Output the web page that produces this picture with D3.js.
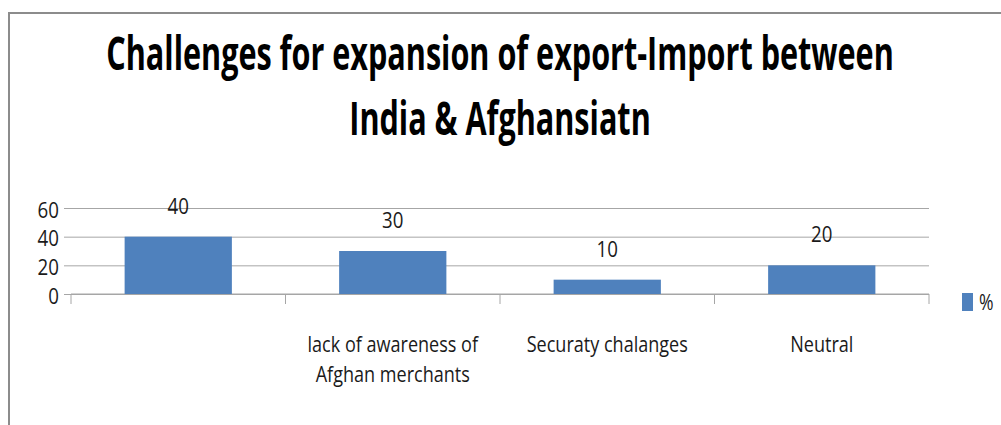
<!DOCTYPE html>
<html>
<head>
<meta charset="utf-8">
<script src="https://cdn.jsdelivr.net/npm/d3@7"></script>
<style>
  body { margin: 0; background: #fff; }
  text { font-family: "Open Sans", "Noto Sans", sans-serif; fill: #1a1a1a; }
</style>
</head>
<body>
<div id="chart"></div>
<script>
var titleLines = ["Challenges for expansion of export-Import between", "India & Afghansiatn"];
var categories = ["", "lack of awareness of\nAfghan merchants", "Securaty chalanges", "Neutral"];
var values = [40, 30, 10, 20];
var yTicks = [0, 20, 40, 60];
var seriesName = "%";

var W = 1001, H = 425,
    margin = { top: 208, left: 71, right: 72, bottom: 131 },
    width = W - margin.left - margin.right,
    height = H - margin.top - margin.bottom,
    barColor = "#4F81BD";

// condense text horizontally (the source font is a narrow one)
function squeeze(sel, k) {
    sel.each(function() {
        var w = this.getComputedTextLength();
        if (w > 0) d3.select(this).attr("textLength", w * k).attr("lengthAdjust", "spacingAndGlyphs");
    });
}

var svg = d3.select("#chart").append("svg").attr("width", W).attr("height", H);

// outer frame (runs off the right and bottom)
svg.append("path").attr("d", "M9," + (H + 5) + "V13H" + (W + 5))
    .attr("fill", "none").attr("stroke", "#8c8c8c").attr("stroke-width", 2);

// title: scaled horizontally so its box stays true
var titleK = 0.665;
svg.selectAll(".title").data(titleLines).enter().append("g")
    .attr("class", "title")
    .attr("transform", function(d, i) { return "translate(500," + (70 + i * 65) + ") scale(" + titleK + ",1)"; })
    .append("text")
    .attr("text-anchor", "middle")
    .style("font-size", "46px").style("font-weight", "bold").style("fill", "#000")
    .text(function(d) { return d; });

var g = svg.append("g").attr("transform", "translate(" + margin.left + "," + margin.top + ")");

var x = d3.scaleBand().domain(d3.range(categories.length)).range([0, width])
    .paddingInner(0.5).paddingOuter(0.25);
var y = d3.scaleLinear().domain([0, 60]).range([height, 0]);

// gridlines + y ticks
var yAxis = g.append("g").call(d3.axisLeft(y).tickValues(yTicks).tickSize(-width).tickPadding(12));
yAxis.select(".domain").remove();
yAxis.selectAll(".tick line").attr("stroke", "#a6a6a6").attr("x1", -7);
yAxis.selectAll(".tick text").style("font-size", "22px").attr("dy", "0.42em").call(squeeze, 0.85);

// category axis
var step = x.step();
var xAxis = g.append("g").attr("transform", "translate(0," + height + ")");
xAxis.append("line").attr("x1", 0).attr("x2", width).attr("stroke", "#a6a6a6");
xAxis.selectAll(".sep").data(d3.range(categories.length + 1)).enter().append("line")
    .attr("x1", function(d) { return d === 0 ? 0 : x(d - 1) + x.bandwidth() + step * x.paddingInner() / 2 + (d === categories.length ? step * (x.paddingOuter() * 2 - x.paddingInner()) / 2 : 0); })
    .attr("x2", function(d) { return d3.select(this).attr("x1"); })
    .attr("y1", 0).attr("y2", 10).attr("stroke", "#a6a6a6");

xAxis.selectAll(".cat").data(categories).enter().append("text")
    .attr("class", "cat")
    .attr("text-anchor", "middle")
    .attr("transform", function(d, i) { return "translate(" + (x(i) + x.bandwidth() / 2) + ",58)"; })
    .style("font-size", "22px")
    .each(function(d) {
        var t = d3.select(this);
        d.split("\n").forEach(function(line, j) {
            t.append("tspan").attr("x", 0).attr("y", j * 30).text(line);
        });
    })
    .selectAll("tspan").call(squeeze, 0.82);

// bars
g.selectAll(".bar").data(values).enter().append("rect")
    .attr("class", "bar")
    .attr("x", function(d, i) { return x(i); })
    .attr("y", function(d) { return y(d); })
    .attr("width", x.bandwidth())
    .attr("height", function(d) { return height - y(d); })
    .attr("fill", barColor);

g.selectAll(".val").data(values).enter().append("text")
    .attr("class", "val")
    .attr("x", function(d, i) { return x(i) + x.bandwidth() / 2; })
    .attr("y", function(d) { return y(d) - 23; })
    .attr("text-anchor", "middle")
    .style("font-size", "22px")
    .text(function(d) { return d; })
    .call(squeeze, 0.85);

// legend
var legend = svg.append("g").attr("transform", "translate(962,293)");
legend.append("rect").attr("width", 11).attr("height", 18).attr("fill", barColor);
legend.append("text").attr("x", 17).attr("y", 17).style("font-size", "22px").text(seriesName).call(squeeze, 0.8);
</script>
</body>
</html>
